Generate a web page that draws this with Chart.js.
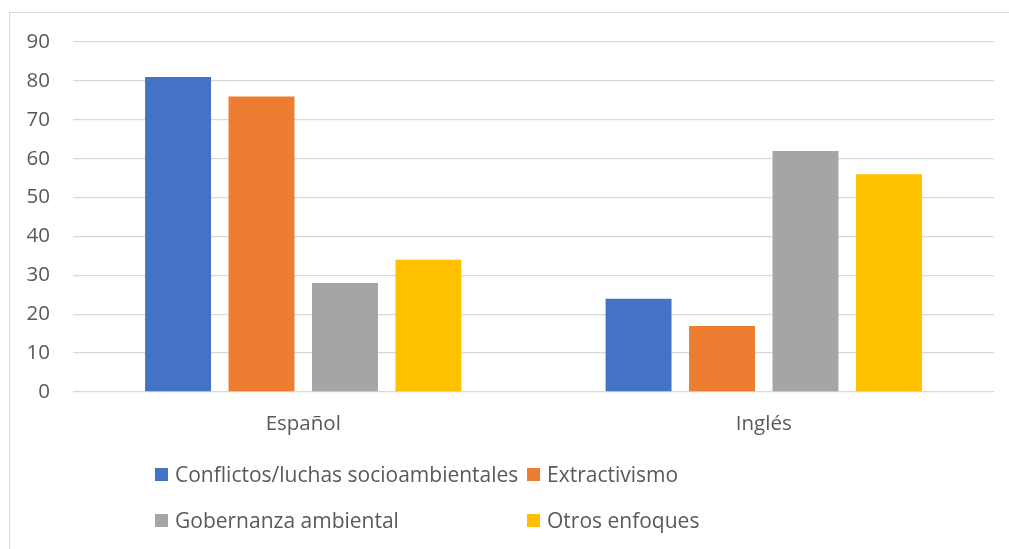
<!DOCTYPE html>
<html>
<head>
<meta charset="utf-8">
<script src="https://cdn.jsdelivr.net/npm/chart.js@4"></script>
<style>
  html, body { margin: 0; padding: 0; background: #fff; }
  #wrap { position: relative; width: 1009px; height: 549px; overflow: hidden; }
  #frame {
    position: absolute; left: 9px; top: 12px; width: 1100px; height: 600px;
    border-top: 1px solid #d9d9d9; border-left: 1px solid #d9d9d9;
  }
  #legend {
    position: absolute; left: 155px; top: 462px;
    display: grid; grid-template-columns: 372px 300px; row-gap: 22px;
    font-family: "Open Sans", sans-serif; font-size: 21px; color: #595959;
  }
  .item { display: flex; align-items: center; height: 24px; white-space: nowrap; }
  .box { width: 13px; height: 13px; margin-right: 7px; flex: none; }
</style>
</head>
<body>
<div id="wrap">
  <div id="frame"></div>
  <canvas id="chart" width="1009" height="549"></canvas>
  <div id="legend"></div>
</div>
<script>
// Datos
const categories = ["Español", "Inglés"];
const seriesNames = [
  "Conflictos/luchas socioambientales",
  "Extractivismo",
  "Gobernanza ambiental",
  "Otros enfoques",
];
const conflictos = [81, 24];
const extractivismo = [76, 17];
const gobernanza = [28, 62];
const otros = [34, 56];
const yTicks = [0, 10, 20, 30, 40, 50, 60, 70, 80, 90];

const colors = ["#4472C4", "#ED7D31", "#A5A5A5", "#FFC000"];
const values = [conflictos, extractivismo, gobernanza, otros];

const font = { family: "'Open Sans', sans-serif", size: 20.5 };

const ctx = document.getElementById("chart").getContext("2d");
const chart = new Chart(ctx, {
  type: "bar",
  data: {
    labels: categories,
    datasets: seriesNames.map((name, i) => ({
      label: name,
      data: values[i],
      backgroundColor: colors[i],
      categoryPercentage: 0.725,
      barPercentage: 0.79,
    })),
  },
  options: {
    responsive: false,
    animation: false,
    layout: { padding: { left: 0, right: 15, top: 42, bottom: 0 } },
    plugins: {
      legend: { display: false },
      tooltip: { enabled: false },
    },
    scales: {
      x: {
        grid: { display: false },
        border: { display: false },
        ticks: { color: "#595959", font: font, padding: 12 },
        afterFit: (s) => { s.height = 157; },
      },
      y: {
        min: 0,
        max: 90,
        afterBuildTicks: (s) => { s.ticks = yTicks.map((v) => ({ value: v })); },
        grid: { color: "#D9D9D9", lineWidth: 1.3, drawTicks: false },
        border: { display: false },
        ticks: { color: "#595959", font: font, padding: 23 },
        afterFit: (s) => { s.width = 73; },
      },
    },
  },
});

// Leyenda en dos columnas
const legend = document.getElementById("legend");
chart.data.datasets.forEach((ds) => {
  const item = document.createElement("div");
  item.className = "item";
  const box = document.createElement("span");
  box.className = "box";
  box.style.background = ds.backgroundColor;
  const txt = document.createElement("span");
  txt.textContent = ds.label;
  item.appendChild(box);
  item.appendChild(txt);
  legend.appendChild(item);
});
</script>
</body>
</html>
